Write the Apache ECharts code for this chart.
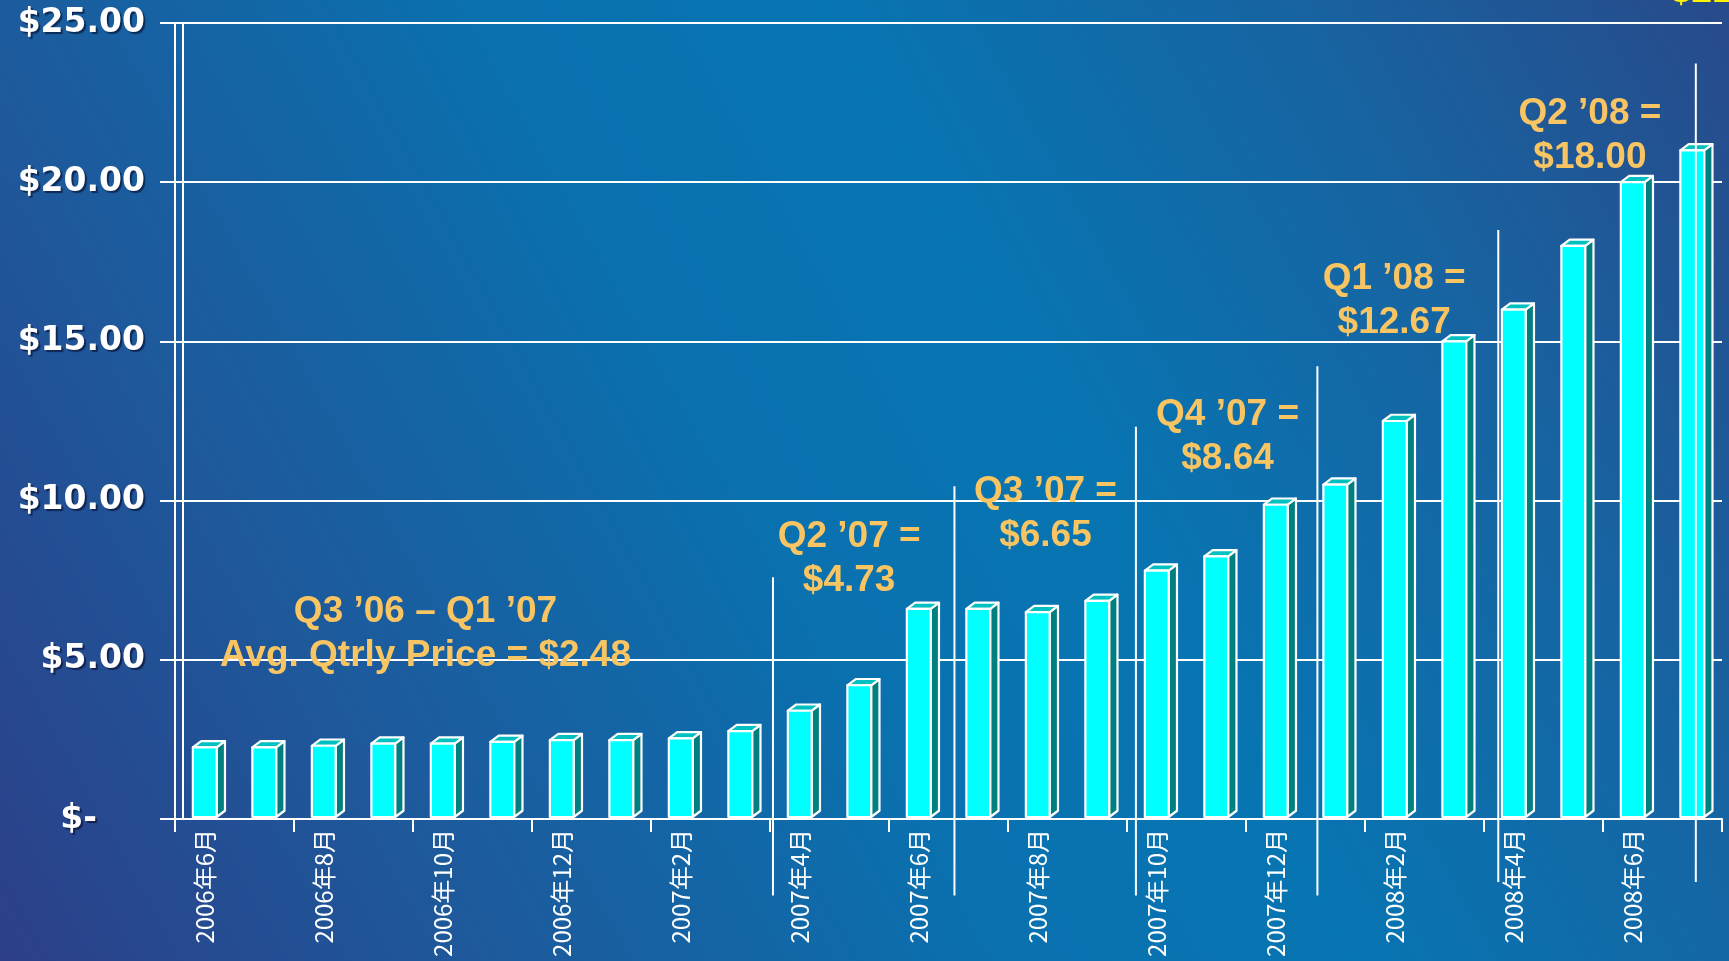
<!DOCTYPE html>
<html>
<head>
<meta charset="utf-8">
<script src="https://cdn.jsdelivr.net/npm/echarts@6/dist/echarts.min.js"></script>
<style>
  html, body { margin: 0; padding: 0; width: 1729px; height: 961px; overflow: hidden; }
  #chart { width: 1729px; height: 961px; }
</style>
</head>
<body>
<div id="chart"></div>
<script>
// ---------- DATA ----------
const months = [
  '2006年6月','2006年7月','2006年8月','2006年9月','2006年10月','2006年11月','2006年12月',
  '2007年1月','2007年2月','2007年3月','2007年4月','2007年5月','2007年6月','2007年7月',
  '2007年8月','2007年9月','2007年10月','2007年11月','2007年12月',
  '2008年1月','2008年2月','2008年3月','2008年4月','2008年5月','2008年6月','2008年7月'
];
const prices = [
  2.25, 2.25, 2.30, 2.37, 2.37, 2.42, 2.48, 2.48, 2.53, 2.76,
  3.40, 4.20, 6.60, 6.60, 6.50, 6.85, 7.80, 8.25, 9.87,
  10.50, 12.50, 15.00, 16.00, 18.00, 20.00, 21.00
];
const yTickLabels = ['$-', '$5.00', '$10.00', '$15.00', '$20.00', '$25.00'];
const quarterNotes = [
  'Q3 ’06 – Q1 ’07\nAvg. Qtrly Price = $2.48',
  'Q2 ’07 =\n$4.73',
  'Q3 ’07 =\n$6.65',
  'Q4 ’07 =\n$8.64',
  'Q1 ’08 =\n$12.67',
  'Q2 ’08 =\n$18.00'
];
const cutNote = '$21.00';
const dividerTops = [7.59, 10.45, 12.32, 14.22, 18.5, 23.73];

// ---------- LAYOUT (positions in axis units) ----------
const notePos = [[3.71, 5.81], [10.83, 8.17], [14.13, 9.60], [17.19, 11.99], [19.99, 16.27], [23.28, 21.46]];
const cutNotePos = [24.64, 25.97];
const dividerPos = [9.55, 12.6, 15.65, 18.7, 21.74, 25.06];
const dividerBottom = [-2.4, -2.4, -2.4, -2.4, -1.98, -1.98];

// ---------- STYLE ----------
const noteColor = '#F9C563';
const noteFont = 'bold 37px "Liberation Sans", Arial, sans-serif';

function xAt(api, pos) {
  const k = Math.floor(pos);
  const base = api.coord([k, 0])[0];
  return base + (pos - k) * api.size([1, 0])[0];
}

const chart = echarts.init(document.getElementById('chart'), null, { renderer: 'canvas' });

const option = {
  animation: false,
  backgroundColor: {
    type: 'linear', x: 0, y: 1, x2: 1, y2: 0,
    colorStops: [
      { offset: 0, color: '#2c3f88' },
      { offset: 0.22, color: '#1d5a9c' },
      { offset: 0.45, color: '#0a71af' },
      { offset: 0.6, color: '#0775b2' },
      { offset: 0.8, color: '#1764a2' },
      { offset: 1, color: '#284a8a' }
    ]
  },
  grid: { left: 175, right: 7, top: 23, bottom: 142, containLabel: false },
  xAxis: {
    type: 'category',
    data: months,
    boundaryGap: true,
    axisLine: { show: true, lineStyle: { color: '#ffffff', width: 2 } },
    axisTick: { show: true, interval: 1, length: 13, lineStyle: { color: '#ffffff', width: 2 } },
    axisLabel: {
      interval: 1, rotate: 90, margin: 10,
      color: '#ffffff', fontSize: 24,
      fontFamily: '"Noto Sans CJK SC", "Liberation Sans", sans-serif'
    },
    splitLine: { show: false }
  },
  yAxis: [{
    type: 'value', min: 0, max: 25, interval: 5,
    axisLine: { show: true, lineStyle: { color: '#ffffff', width: 2 } },
    axisTick: { show: true, length: 15, lineStyle: { color: '#ffffff', width: 2 } },
    axisLabel: {
      margin: 30,
      color: '#ffffff', fontSize: 33, fontWeight: 'bold',
      fontFamily: '"DejaVu Sans", sans-serif',
      textShadowColor: 'rgba(0,0,30,0.55)', textShadowOffsetX: 2, textShadowOffsetY: 2, textShadowBlur: 1,
      formatter: function (v) {
        const s = yTickLabels[Math.round(v / 5)];
        return v === 0 ? '{z|' + s + '}' : s;
      },
      rich: {
        z: {
          padding: [0, 48, 0, 0], color: '#ffffff', fontSize: 33, fontWeight: 'bold',
          fontFamily: '"DejaVu Sans", sans-serif',
          textShadowColor: 'rgba(0,0,30,0.55)', textShadowOffsetX: 2, textShadowOffsetY: 2, textShadowBlur: 1
        }
      }
    },
    splitLine: { show: true, lineStyle: { color: '#ffffff', width: 2 } }
  }, {
    type: 'value', min: 0, max: 25, interval: 5, position: 'left', offset: -8,
    axisLine: { show: true, lineStyle: { color: '#ffffff', width: 2 } },
    axisTick: { show: false }, axisLabel: { show: false }, splitLine: { show: false }
  }],
  series: [
    {
      name: 'price',
      type: 'custom',
      data: prices.map((v, i) => [i, v]),
      encode: { x: 0, y: 1 },
      z: 3,
      renderItem: function (params, api) {
        const i = api.value(0), v = api.value(1);
        const top = api.coord([i, v]);
        const base = api.coord([i, 0]);
        const bw = api.size([1, 0])[0];
        const half = bw * 0.2;
        const dx = bw * 0.14, dy = bw * 0.105;
        const cx = top[0];
        const L = cx - half, R = cx + half, T = top[1], B = base[1] - 2;
        const st = { stroke: '#ffffff', lineWidth: 2.2, lineJoin: 'round' };
        return {
          type: 'group',
          children: [
            { type: 'polygon', shape: { points: [[R, T], [R + dx, T - dy], [R + dx, B - dy], [R, B]] },
              style: Object.assign({ fill: '#007F7F' }, st) },
            { type: 'polygon', shape: { points: [[L, T], [L + dx, T - dy], [R + dx, T - dy], [R, T]] },
              style: Object.assign({ fill: '#00C0C0' }, st) },
            { type: 'rect', shape: { x: L, y: T, width: R - L, height: B - T },
              style: Object.assign({ fill: '#00FFFF' }, st) }
          ]
        };
      }
    },
    {
      name: 'dividers',
      type: 'custom',
      clip: false,
      z: 5,
      data: dividerTops.map((t, i) => [Math.floor(dividerPos[i]), t]),
      encode: { x: 0, y: 1 },
      renderItem: function (params, api) {
        const i = params.dataIndex;
        const x = xAt(api, dividerPos[i]);
        const y1 = api.coord([0, dividerTops[i]])[1];
        const y2 = api.coord([0, dividerBottom[i]])[1];
        return { type: 'line', shape: { x1: x, y1: y1, x2: x, y2: y2 },
                 style: { stroke: '#ffffff', lineWidth: 2 } };
      }
    },
    {
      name: 'notes',
      type: 'custom',
      clip: false,
      z: 6,
      data: notePos.map(p => [Math.floor(p[0]), p[1]]),
      encode: { x: 0, y: 1 },
      renderItem: function (params, api) {
        const i = params.dataIndex;
        const x = xAt(api, notePos[i][0]);
        const y = api.coord([0, notePos[i][1]])[1];
        return {
          type: 'text', x: x, y: y,
          style: {
            text: quarterNotes[i], fill: noteColor, font: noteFont,
            align: 'center', verticalAlign: 'middle', lineHeight: 44,
            shadowColor: 'rgba(10,20,60,0.9)', shadowOffsetX: 2, shadowOffsetY: 2, shadowBlur: 1
          }
        };
      }
    },
    {
      name: 'cutNote',
      type: 'custom',
      clip: false,
      z: 6,
      data: [[Math.floor(cutNotePos[0]), cutNotePos[1]]],
      encode: { x: 0, y: 1 },
      renderItem: function (params, api) {
        const x = xAt(api, cutNotePos[0]);
        const y = api.coord([0, cutNotePos[1]])[1];
        return {
          type: 'text', x: x, y: y,
          style: {
            text: cutNote, fill: '#FFF200', font: noteFont,
            align: 'left', verticalAlign: 'middle',
            shadowColor: 'rgba(10,20,60,0.9)', shadowOffsetX: 2, shadowOffsetY: 2, shadowBlur: 1
          }
        };
      }
    }
  ]
};

chart.setOption(option);
</script>
</body>
</html>
